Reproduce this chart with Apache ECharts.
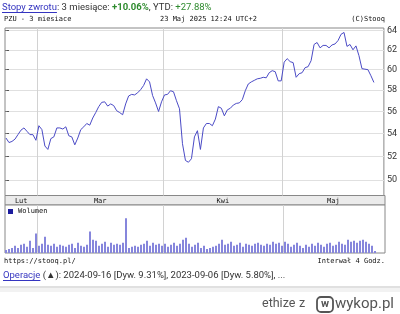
<!DOCTYPE html>
<html><head><meta charset="utf-8">
<script src="https://cdn.jsdelivr.net/npm/echarts@6/dist/echarts.min.js"></script>
<style>html,body{margin:0;padding:0;background:#fff}#c{width:400px;height:314px}</style>
</head><body><div id="c"></div>
<script>
// ---- data ----
const priceValues = [
  53.6,53.2,53.3,53.5,53.9,54.3,54.5,54.2,53.9,53.9,
  53.4,54.7,54.35,52.9,52.6,53.55,53.7,54.5,54.5,54.4,
  54.6,53.8,53.7,53.0,53.6,54.35,54.6,54.9,54.75,55.4,
  55.9,56.45,56.85,56.9,56.5,56.7,56.55,56.07,55.9,55.7,
  56.7,57.45,57.6,57.55,57.75,58.05,58.45,59.1,58.8,57.5,
  56.8,56.0,56.9,57.55,57.6,57.95,57.85,57.0,56.25,53.1,
  51.65,51.5,51.8,53.7,54.25,52.6,54.5,54.9,54.9,54.7,
  55.3,56.45,56.3,55.6,56.15,56.3,56.6,56.75,56.8,57.1,
  57.95,58.6,58.8,58.95,59.1,59.15,59.25,59.2,59.7,59.9,
  59.8,58.9,58.9,60.75,61.1,60.8,60.7,59.25,59.6,59.7,
  60.2,60.3,60.9,62.55,62.75,62.2,62.45,62.45,62.2,62.5,
  62.6,62.95,63.6,63.8,62.35,62.55,62.0,62.4,61.4,60.1,
  60.05,60.0,59.4,58.75
];
const volumeValues = [
  180,240,300,420,300,480,540,360,720,300,
  1140,420,540,960,480,420,540,360,480,420,
  360,480,540,300,600,420,360,480,1260,780,
  720,420,540,660,360,600,480,540,480,600,
  2040,300,360,420,360,480,540,720,420,600,
  480,540,420,540,360,480,600,420,540,780,
  900,540,360,480,600,300,420,240,300,360,
  420,540,780,480,540,660,420,480,600,360,
  540,480,420,540,600,480,420,540,480,660,
  540,600,420,660,540,360,480,600,420,300,
  480,360,540,420,600,480,360,540,600,420,
  480,660,540,480,780,660,720,600,720,780,
  660,540,420,120
];
const monthNames = ['Lut','Mar','Kwi','Maj'];
const monthBoundaries = [10.5, 52.5, 92.5];
const priceTicks = [50,52,54,56,58,60,62,64];

// ---- layout / style ----
const MONO = '"DejaVu Sans Mono", "Liberation Mono", monospace';
const SANS = 'Roboto, "Liberation Sans", Arial, sans-serif';
const FS = 9.5;
const xMin = -1/3, xMax = 126 + 1/3;
const edges = [xMin].concat(monthBoundaries, [xMax]);
const monthMid = monthNames.map((m,k)=>(edges[k]+edges[k+1])/2);
function monthOf(v){ let k=0; monthBoundaries.forEach((b,j)=>{ if(v>b) k=j+1; }); return monthNames[k]; }
function measure(text, font){ const c=document.createElement('canvas').getContext('2d'); c.font=font; return c.measureText(text).width; }
const logTicks = priceTicks.map(Math.log);

const linkW1 = measure('Stopy zwrotu', FS + 'px ' + SANS);
const linkW2 = measure('Operacje', FS + 'px ' + SANS);

function txt(x, y, text, font, fill, align){
  return {type:'text', x:x, y:y, silent:true,
    style:{text:text, font:font, fill:fill, align:align||'left', verticalAlign:'middle',
           textAlign:align||'left', textVerticalAlign:'middle'}};
}
function rs(color, weight){ return {fontFamily:SANS, fontSize:FS, color:color, fontWeight:weight||'normal', lineHeight:13}; }

const chart = echarts.init(document.getElementById('c'), null, {renderer:'canvas'});
chart.setOption({
  animation:false,
  backgroundColor:'#fff',
  title:[
    {left:2, top:1, padding:0,
     text:'{l|Stopy zwrotu}{n|: 3 miesiące: }{g|+10.06%}{n|, YTD: }{h|+27.88%}',
     textStyle:{fontWeight:'normal', fontSize:FS, rich:{
       l:rs('#3535c0'), n:rs('#333'), g:rs('#2e8b2e','bold'), h:rs('#2e8b2e')}}},
    {left:3, top:269, padding:0,
     text:'{l|Operacje}{n| (▲): 2024-09-16 [Dyw. 9.31%], 2023-09-06 [Dyw. 5.80%], ...}',
     textStyle:{fontWeight:'normal', fontSize:FS, rich:{l:rs('#3535c0'), n:rs('#333')}}}
  ],
  legend:{data:[{name:'Wolumen', itemStyle:{color:'#1c1c9e'}}], left:8, top:208, padding:0,
    icon:'rect', itemWidth:5, itemHeight:5, selectedMode:false,
    textStyle:{fontFamily:MONO, fontSize:7, color:'#111'}},
  grid:[
    {left:5, right:15, top:28, bottom:118.5, show:true, borderColor:'#888', borderWidth:1, backgroundColor:'#fff'},
    {left:5, right:15, top:205, bottom:61, show:true, borderColor:'#888', borderWidth:1, backgroundColor:'#fff'}
  ],
  xAxis:[
    {gridIndex:0, type:'value', min:xMin, max:xMax, axisLine:{show:false},
     axisTick:{show:false, customValues:monthBoundaries},
     splitLine:{show:true, lineStyle:{color:'#d2d2d2', width:1}},
     axisLabel:{customValues:monthMid, formatter:v=>monthOf(v), fontFamily:MONO, fontSize:7, color:'#111', margin:2}},
    {gridIndex:1, type:'value', min:xMin, max:xMax, axisLine:{show:false},
     axisTick:{show:false, customValues:monthBoundaries},
     splitLine:{show:true, lineStyle:{color:'#d2d2d2', width:1}},
     axisLabel:{show:false}}
  ],
  yAxis:[
    {gridIndex:0, type:'value', position:'right', min:Math.log(48.75), max:Math.log(64.27),
     axisLine:{show:false},
     axisTick:{show:true, inside:false, length:3, customValues:logTicks, lineStyle:{color:'#555'}},
     axisLabel:{customValues:logTicks, formatter:v=>String(Math.round(Math.exp(v))),
       fontFamily:SANS, fontSize:9, color:'#333', margin:3},
     splitLine:{show:true, lineStyle:{color:'#e0e0e0', width:1}}},
    {gridIndex:0, type:'value', position:'left', min:Math.log(48.75), max:Math.log(64.27),
     axisLine:{show:false},
     axisTick:{show:true, inside:true, length:2, customValues:logTicks, lineStyle:{color:'#777'}},
     axisLabel:{show:false}, splitLine:{show:false}},
    {gridIndex:1, type:'value', min:0, max:2820, axisLine:{show:false}, axisTick:{show:false},
     axisLabel:{show:false}, splitLine:{show:false}}
  ],
  series:[
    {type:'line', xAxisIndex:0, yAxisIndex:0, showSymbol:false, silent:true,
     data:priceValues.map((v,i)=>[i, Math.log(v)]),
     lineStyle:{color:'#4b4bc6', width:1}},
    {type:'bar', name:'Wolumen', xAxisIndex:1, yAxisIndex:2, barWidth:2, silent:true,
     data:volumeValues.map((v,i)=>[i, v]),
     itemStyle:{color:'#8686dc'}}
  ],
  graphic:[
    {type:'rect', z:-1, silent:true, shape:{x:5, y:195.5, width:380, height:9.5},
     style:{fill:'#ebebeb', stroke:'#888', lineWidth:1}},
    {type:'line', silent:true, shape:{x1:2, y1:12.5, x2:2+linkW1, y2:12.5}, style:{stroke:'#3535c0', lineWidth:1}},
    {type:'line', silent:true, shape:{x1:3, y1:280.5, x2:3+linkW2, y2:280.5}, style:{stroke:'#3535c0', lineWidth:1}},
    txt(4, 19.5, 'PZU - 3 miesiace', '7px ' + MONO, '#111'),
    txt(160, 19.5, '23 Maj 2025 12:24 UTC+2', '7px ' + MONO, '#111'),
    txt(385, 19.5, '(C)Stooq', '7px ' + MONO, '#111', 'right'),
    txt(4, 261, 'https://stooq.pl/', '7px ' + MONO, '#111'),
    txt(385, 261, 'Interwał 4 Godz.', '7px ' + MONO, '#111', 'right'),
    {type:'rect', silent:true, shape:{x:0, y:286, width:400, height:2}, style:{fill:'#e0e0e0'}},
    {type:'rect', silent:true, shape:{x:0, y:288, width:400, height:4}, style:{fill:'#f2f2f2'}},
    txt(262, 304, 'ethize', '12.5px ' + SANS, '#555'),
    txt(299, 304, 'z', '12.5px ' + SANS, '#555'),
    {type:'rect', silent:true, shape:{x:317, y:297, width:16, height:15, r:4}, style:{fill:'none', stroke:'#555', lineWidth:1.8}},
    txt(325, 304.5, 'w', 'bold 11px ' + SANS, '#555', 'center'),
    txt(335, 304, 'wykop.pl', '15px ' + SANS, '#555')
  ]
});
</script></body></html>
